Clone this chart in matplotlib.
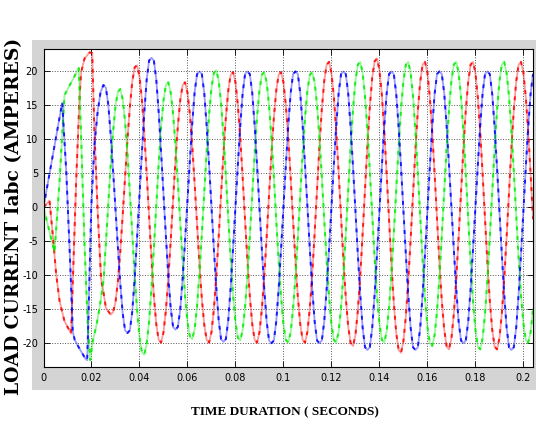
import numpy as np
import matplotlib.pyplot as plt
from matplotlib.patches import Rectangle

# start-up transient, read as vertices (time in ms, current in A)
blue_t0 = [0, 7.8, 9.5, 11.1, 12.2, 13.0, 15.0, 17.5, 18.2, 18.8, 19.9, 21.2, 22.6, 23.8]
blue_i0 = [0, 15.4, 5.2, -8.0, -18.3, -19.5, -20.8, -22.3, -22.5, -15.4, 0.0, 9.1, 14.2, 17.0]

green_t0 = [0, 4.6, 6.7, 8.75, 14.7, 15.8, 17.1, 18.5, 19.5, 20.5, 22.0, 23.5]
green_i0 = [0, -6.6, 3.9, 16.5, 20.5, 9.1, -5.6, -17.8, -22.5, -19.7, -17.5, -14.5]

red_t0 = [0, 0.8, 2.5, 3.9, 5.3, 6.7, 8.7, 11.5, 12.2, 13.6, 15.0, 15.7, 17.1, 19.2, 20.3, 21.2, 22.6, 24.0]
red_i0 = [0, 0.3, 1.0, -4.2, -9.9, -13.8, -16.7, -18.6, -11.0, 3.7, 16.0, 19.9, 21.9, 22.8, 22.7, 11.4, -0.8, -10.6]

# steady part, one reading per millisecond from 25 ms to 204 ms
t_ms = np.arange(25, 205)

blue_i = [
    18.0,
    17.6, 15.1, 10.7, 5.4, -0.3, -5.9, -11.2, -15.6, -18.1, -18.5,
    -18.1, -15.3, -10.4, -4.5, 1.8, 8.0, 13.9, 18.8, 21.6, 22.0,
    21.6, 18.8, 14.0, 8.2, 2.0, -4.2, -10.0, -14.8, -17.6, -18.0,
    -17.6, -15.0, -10.4, -4.9, 1.0, 6.9, 12.4, 17.0, 19.6, 20.0,
    19.6, 16.8, 12.0, 6.3, 0.1, -6.1, -11.8, -16.6, -19.4, -19.8,
    -19.4, -16.6, -11.8, -6.1, 0.1, 6.3, 12.0, 16.8, 19.6, 20.0,
    19.6, 16.8, 12.0, 6.2, 0.0, -6.2, -12.0, -16.8, -19.6, -20.0,
    -19.6, -16.8, -12.0, -6.2, 0.0, 6.2, 12.0, 16.8, 19.6, 20.0,
    19.6, 16.8, 12.0, 6.2, 0.0, -6.2, -12.0, -16.8, -19.6, -20.0,
    -19.6, -16.8, -12.0, -6.2, 0.0, 6.2, 12.0, 16.8, 19.6, 20.0,
    19.6, 16.7, 11.8, 5.9, -0.5, -6.9, -12.8, -17.7, -20.6, -21.0,
    -20.6, -17.7, -12.8, -6.9, -0.5, 5.9, 11.8, 16.7, 19.6, 20.0,
    19.6, 16.7, 11.8, 5.9, -0.5, -6.9, -12.8, -17.7, -20.6, -21.0,
    -20.6, -17.7, -12.8, -6.9, -0.5, 5.9, 11.8, 16.7, 19.6, 20.0,
    19.6, 16.8, 12.0, 6.2, 0.0, -6.2, -12.0, -16.8, -19.6, -20.0,
    -19.6, -16.8, -12.0, -6.2, 0.0, 6.2, 12.0, 16.8, 19.6, 20.0,
    19.6, 16.7, 11.8, 5.9, -0.5, -6.9, -12.8, -17.7, -20.6, -21.0,
    -20.6, -17.7, -12.8, -6.9, -0.5, 5.9, 11.8, 16.7, 19.6,
]

green_i = [
    -10.8, -5.3, 0.5, 6.2, 11.1, 14.9, 17.0,
    17.4, 15.9, 12.6, 7.9, 2.1, -4.0, -10.0, -15.1, -19.1, -21.3,
    -21.7, -20.1, -16.8, -11.9, -6.0, 0.2, 6.4, 11.7, 15.7, 18.0,
    18.4, 16.9, 13.8, 9.2, 3.6, -2.3, -8.0, -13.1, -16.9, -19.0,
    -19.4, -17.9, -14.5, -9.7, -3.9, 2.3, 8.3, 13.6, 17.5, 19.8,
    20.2, 18.7, 15.3, 10.5, 4.7, -1.6, -7.6, -12.9, -16.9, -19.2,
    -19.6, -18.1, -14.7, -10.0, -4.2, 2.0, 8.0, 13.3, 17.2, 19.5,
    19.9, 18.4, 15.0, 10.2, 4.4, -1.9, -7.9, -13.2, -17.2, -19.5,
    -19.9, -18.4, -15.0, -10.2, -4.4, 1.9, 7.9, 13.2, 17.2, 19.5,
    19.9, 18.4, 15.0, 10.2, 4.4, -1.9, -7.9, -13.2, -17.2, -19.5,
    -19.9, -18.3, -14.8, -9.8, -3.8, 2.7, 9.0, 14.5, 18.6, 21.0,
    21.4, 19.8, 16.3, 11.3, 5.3, -1.2, -7.5, -13.0, -17.1, -19.5,
    -19.9, -18.3, -14.8, -9.8, -3.8, 2.7, 9.0, 14.5, 18.6, 21.0,
    21.4, 19.8, 16.3, 11.2, 5.1, -1.5, -7.8, -13.4, -17.6, -20.0,
    -20.4, -18.8, -15.3, -10.2, -4.1, 2.5, 8.8, 14.4, 18.6, 21.0,
    21.4, 19.8, 16.2, 11.1, 4.9, -1.7, -8.2, -13.8, -18.0, -20.5,
    -20.9, -19.3, -15.7, -10.6, -4.4, 2.2, 8.7, 14.3, 18.5, 21.0,
    21.4, 19.8, 16.3, 11.3, 5.3, -1.2, -7.5, -13.0, -17.1, -19.5,
    -19.9, -18.4, -15.0,
]

red_i = [
    -12.5, -14.8, -15.3, -15.8,
    -15.4, -14.0, -10.9, -6.5, -1.2, 4.5, 10.0, 14.8, 18.5, 20.6,
    20.9, 19.3, 15.9, 10.9, 5.0, -1.4, -7.6, -13.1, -17.2, -19.5,
    -19.9, -18.4, -15.2, -10.6, -5.0, 1.1, 6.9, 12.0, 15.8, 18.0,
    18.4, 16.9, 13.7, 9.0, 3.4, -2.6, -8.4, -13.5, -17.3, -19.5,
    -19.9, -18.4, -15.0, -10.2, -4.4, 1.9, 7.9, 13.2, 17.2, 19.5,
    19.9, 18.4, 15.0, 10.2, 4.4, -1.9, -7.9, -13.2, -17.2, -19.5,
    -19.9, -18.4, -15.0, -10.2, -4.4, 1.9, 7.9, 13.2, 17.2, 19.5,
    19.9, 18.4, 15.0, 10.2, 4.4, -1.9, -7.9, -13.2, -17.2, -19.5,
    -19.9, -18.3, -14.8, -9.8, -3.8, 2.7, 9.0, 14.5, 18.6, 21.0,
    21.4, 19.8, 16.3, 11.2, 5.1, -1.5, -7.8, -13.4, -17.6, -20.0,
    -20.4, -18.8, -15.2, -10.1, -3.9, 2.8, 9.2, 14.8, 19.1, 21.5,
    21.9, 20.2, 16.6, 11.3, 5.0, -1.8, -8.4, -14.1, -18.5, -21.0,
    -21.4, -19.7, -16.1, -10.9, -4.7, 2.0, 8.5, 14.2, 18.5, 21.0,
    21.4, 19.8, 16.2, 11.1, 4.9, -1.7, -8.2, -13.8, -18.0, -20.5,
    -20.9, -19.3, -15.7, -10.6, -4.4, 2.2, 8.7, 14.3, 18.5, 21.0,
    21.4, 19.8, 16.2, 11.1, 4.9, -1.7, -8.2, -13.8, -18.0, -20.5,
    -20.9, -19.3, -15.7, -10.6, -4.4, 2.2, 8.7, 14.3, 18.5, 21.0,
    21.4, 19.8, 16.2, 11.1, 4.9, -1.7,
]

x_ticks = [0, 0.02, 0.04, 0.06, 0.08, 0.1, 0.12, 0.14, 0.16, 0.18, 0.2]
x_labels = ['0', '0.02', '0.04', '0.06', '0.08', '0.1', '0.12', '0.14', '0.16', '0.18', '0.2']
y_ticks = [-20, -15, -10, -5, 0, 5, 10, 15, 20]
y_labels = ['-20', '-15', '-10', '-5', '0', '5', '10', '15', '20']


def phase(t0, i0, i_steady):
    t = np.concatenate([np.array(t0, dtype=float), t_ms]) / 1000.0
    i = np.concatenate([np.array(i0, dtype=float), np.array(i_steady, dtype=float)])
    return t, i


fig = plt.figure(figsize=(5.36, 4.26), dpi=100)
fig.patches.append(Rectangle((32 / 536, 1 - 390 / 426), 504 / 536, 350 / 426,
                             transform=fig.transFigure, facecolor='#d4d4d4',
                             edgecolor='none', zorder=0))

ax = fig.add_axes([43.5 / 536, 1 - 367 / 426, 489.5 / 536, 318 / 426])
ax.set_zorder(1)

for t0, i0, i_s, col in [(red_t0, red_i0, red_i, '#ff0000'),
                         (green_t0, green_i0, green_i, '#00ee00'),
                         (blue_t0, blue_i0, blue_i, '#0000ff')]:
    t, i = phase(t0, i0, i_s)
    ax.plot(t, i, color=col, lw=1.3, alpha=0.4)
    ax.plot(t, i, color=col, lw=1.4, alpha=0.85, dashes=(2.0, 3.0))

ax.set_xlim(0, 0.204)
ax.set_ylim(-23.5, 23.3)
ax.set_xticks(x_ticks)
ax.set_xticklabels(x_labels)
ax.set_yticks(y_ticks)
ax.set_yticklabels(y_labels)
ax.grid(True, linestyle=':', color='#555555', linewidth=0.7)
ax.tick_params(direction='in', top=True, right=True, length=4, width=0.6,
               labelsize=7, pad=4)
for lab in ax.get_xticklabels() + ax.get_yticklabels():
    lab.set_family(['Liberation Sans Narrow', 'DejaVu Sans'])
for s in ax.spines.values():
    s.set_linewidth(0.8)

fig.text(0.027, 0.493, 'LOAD CURRENT Iabc (AMPERES)', rotation=90,
         ha='center', va='center', fontsize=13.5, fontweight='bold',
         family='DejaVu Serif')
fig.text(0.532, 0.033, 'TIME DURATION ( SECONDS)', ha='center', va='center',
         fontsize=9.5, fontweight='bold', family='Liberation Serif')

fig.savefig('out.png', dpi=100)
